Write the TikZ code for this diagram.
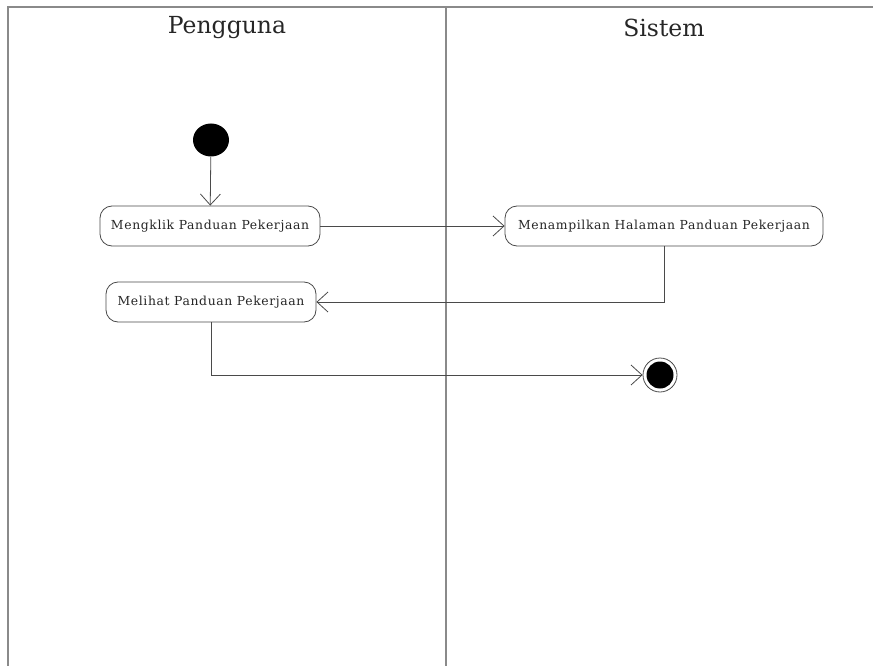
\documentclass[tikz,border=0pt]{standalone}
\usepackage{fontspec}
\setmainfont{DejaVu Serif}
\usetikzlibrary{arrows.meta,calc,shapes.geometric}
\definecolor{lanegray}{HTML}{8A8A8A}
\definecolor{linegray}{HTML}{4A4A4A}
\tikzset{%
        x = 1pt,
        y = -1pt,
        >={Straight Barb[length=11pt,width=20pt]},
        flow/.style = {->, draw = linegray, line width = 0.8pt}
}
\tikzstyle{activity}=[
    draw = linegray,
    fill = white,
    line width = 0.8pt,
    rounded corners = 12pt,
    minimum height = 40pt,
    text = black!85,
    font = \fontsize{12.4}{14}\selectfont\addfontfeature{LetterSpace=5}
]
\tikzstyle{lane}=[
    draw = lanegray,
    line width = 1.8pt
]
\tikzstyle{title}=[
    text = black!85,
    font = \fontsize{23.5}{28}\selectfont
]

\begin{document}
\begin{tikzpicture}
        \useasboundingbox (0,0) rectangle (873,666);
        % swimlanes
        \draw[lane] (8,666) -- (8,7) -- (873,7);
        \draw[lane] (446,7) -- (446,666);
        \node[title] (p) at (227,28) {Pengguna};
        \node[title] (s) at (664,28) {Sistem};
        % nodes
        \node[ellipse, fill=black, minimum width=36pt, minimum height=33pt, inner sep=0pt] (0) at (211,140) {};
        \node[activity, minimum width=220pt] (1) at (210,226) {Mengklik Panduan Pekerjaan};
        \node[activity, minimum width=318pt] (2) at (664,226) {Menampilkan Halaman Panduan Pekerjaan};
        \node[activity, minimum width=210pt] (3) at (211,302) {Melihat Panduan Pekerjaan};
        \node[circle, draw=linegray, line width=0.8pt, minimum size=34pt, inner sep=0pt] (4) at (660,375) {};
        \node[circle, fill=black, minimum size=27pt, inner sep=0pt] (4i) at (4) {};
        % transitions
        \draw[flow] (0) -- (1);
        \draw[flow] (1) -- (2);
        \draw[flow] (2.south) |- (3.east);
        \draw[flow] (3.south) |- (4.west);
    \end{tikzpicture}
\end{document}
